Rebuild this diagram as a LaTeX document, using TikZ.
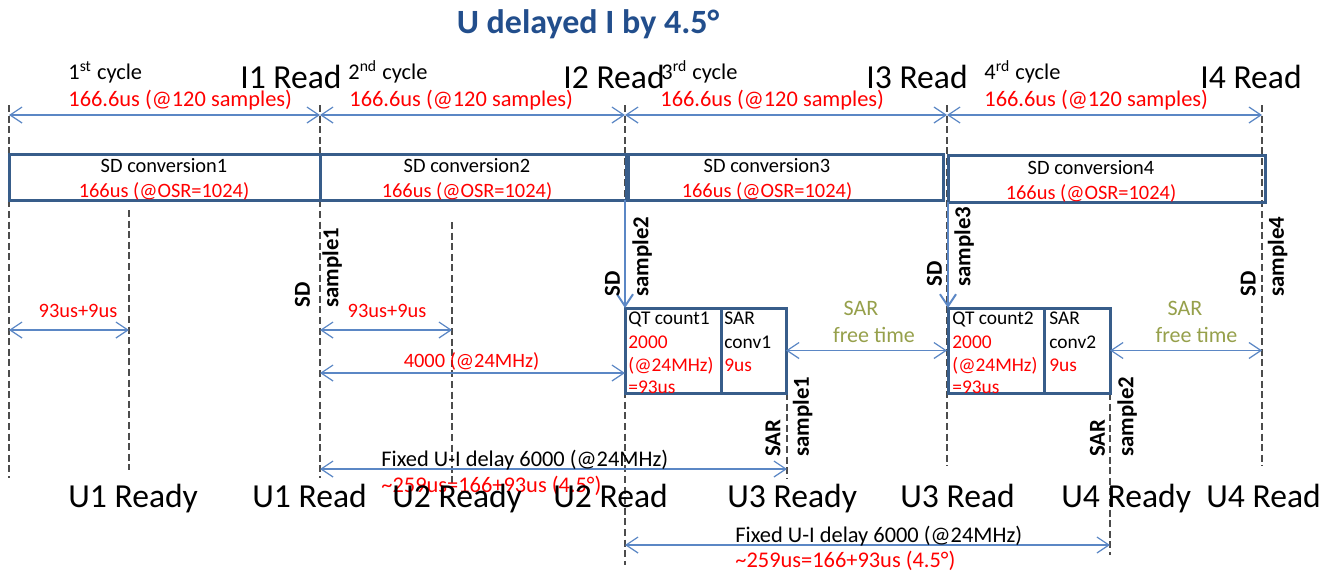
\documentclass[tikz,border=0pt]{standalone}
\usepackage{fontspec}
\setmainfont{Carlito}
\usetikzlibrary{arrows.meta,calc}

\definecolor{boxblue}{RGB}{56,93,138}
\definecolor{lineblue}{RGB}{91,135,197}
\definecolor{titleblue}{RGB}{34,78,140}
\definecolor{sargreen}{RGB}{150,160,75}

\tikzset{
  >={Straight Barb[length=6pt,width=8pt]},
  guide/.style={black!70,line width=0.6pt,dash pattern=on 3.5pt off 1.8pt},
  span/.style={lineblue,line width=0.6pt,<->},
  feed/.style={lineblue,line width=1pt,->},
  sdbox/.style={draw=boxblue,line width=1.5pt,outer sep=0pt,inner sep=0pt,minimum height=23pt},
  qtbox/.style={sdbox,minimum height=42.5pt},
  big/.style={font=\fontsize{16.8}{20}\selectfont,anchor=base west},
  cyc/.style={font=\fontsize{11.2}{13}\selectfont,anchor=base west},
  note/.style={font=\fontsize{10.2}{12.5}\selectfont,align=center},
  inbox/.style={font=\fontsize{9.7}{11.2}\selectfont,align=left,anchor=north west},
  vlabel/.style={rotate=90,anchor=west,align=left,font=\fontsize{11.4}{14.2}\selectfont\bfseries},
  freet/.style={font=\fontsize{11}{13}\selectfont,text=sargreen,anchor=base},
}

\begin{document}
\begin{tikzpicture}[x=0.5pt,y=-0.5pt,every node/.style={inner sep=0pt}]
\useasboundingbox (0,0) rectangle (1333,574);

% read instants and guide lines
\coordinate (i0) at (9,105);    \coordinate (e0) at (9,478);
\coordinate (i1) at (320,105);  \coordinate (e1) at (320,478);
\coordinate (i2) at (625,105);  \coordinate (e2) at (625,565);
\coordinate (i3) at (947,105);  \coordinate (e3) at (947,466);
\coordinate (i4) at (1262,105); \coordinate (e4) at (1262,466);
\coordinate (r1) at (129,210);  \coordinate (f1) at (129,470);
\coordinate (r2) at (452,222);  \coordinate (f2) at (452,487);
\coordinate (s1) at (787,393);  \coordinate (g1) at (787,478);
\coordinate (s2) at (1110,393); \coordinate (g2) at (1110,555);

\draw[guide] (i0) -- (e0);
\draw[guide] (i1) -- (e1);
\draw[guide] (i2) -- (e2);
\draw[guide] (i3) -- (e3);
\draw[guide] (i4) -- (e4);
\draw[guide] (r1) -- (f1);
\draw[guide] (r2) -- (f2);
\draw[guide] (s1) -- (g1);
\draw[guide] (s2) -- (g2);

\node[font=\fontsize{17}{20}\selectfont\bfseries,text=titleblue,anchor=base] (title) at (588,33) {U delayed I by 4.5°};

% cycles
\coordinate (t0) at (9,115);
\coordinate (t1) at (320,115);
\coordinate (t2) at (625,115);
\coordinate (t3) at (947,115);
\coordinate (t4) at (1262,115);
\draw[span] (t0) -- (t1);
\draw[span] (t1) -- (t2);
\draw[span] (t2) -- (t3);
\draw[span] (t3) -- (t4);

\node[cyc] (cyc1) at (68,79) {1\textsuperscript{st} cycle};
\node[cyc,text=red] (per1) at (68,106) {166.6us (@120 samples)};
\node[big] (rd1) at (240,88) {I1 Read};
\node[cyc] (cyc2) at (348,79) {2\textsuperscript{nd} cycle};
\node[cyc,text=red] (per2) at (349,106) {166.6us (@120 samples)};
\node[big] (rd2) at (563,88) {I2 Read};
\node[cyc] (cyc3) at (661,79) {3\textsuperscript{rd} cycle};
\node[cyc,text=red] (per3) at (660,106) {166.6us (@120 samples)};
\node[big] (rd3) at (866,88) {I3 Read};
\node[cyc] (cyc4) at (984,79) {4\textsuperscript{rd} cycle};
\node[cyc,text=red] (per4) at (984,106) {166.6us (@120 samples)};
\node[big] (rd4) at (1200,88) {I4 Read};

% SD conversions
\node[sdbox,minimum width=155.5pt] (sd1) at (164.5,177) {};
\node[sdbox,minimum width=153pt] (sd2) at (473,177) {};
\node[sdbox,minimum width=157.5pt] (sd3) at (785.5,177) {};
\node[sdbox,minimum width=158.5pt,minimum height=23.5pt] (sd4) at (1106.5,178.5) {};
\node[note] (sdt1) at (164,179.5) {SD conversion1\\\textcolor{red}{166us (@OSR=1024)}};
\node[note] (sdt2) at (467,179.5) {SD conversion2\\\textcolor{red}{166us (@OSR=1024)}};
\node[note] (sdt3) at (767,179.5) {SD conversion3\\\textcolor{red}{166us (@OSR=1024)}};
\node[note] (sdt4) at (1091,181) {SD conversion4\\\textcolor{red}{166us (@OSR=1024)}};

% QT count and SAR conversion
\node[qtbox,minimum width=48pt] (qt1) at (673,350.5) {};
\node[qtbox,minimum width=32.5pt] (sar1) at (753.5,350.5) {};
\node[qtbox,minimum width=48pt] (qt2) at (996,350.5) {};
\node[qtbox,minimum width=33pt] (sar2) at (1077,350.5) {};
\node[inbox] (qtt1) at (628,311.5) {QT count1\\[1pt]\textcolor{red}{2000}\\\textcolor{red}{(@24MHz)}\\\textcolor{red}{=93us}};
\node[inbox] (sart1) at (724,311.5) {SAR\\[1pt]conv1\\\textcolor{red}{9us}};
\node[inbox] (qtt2) at (952,311.5) {QT count2\\[1pt]\textcolor{red}{2000}\\\textcolor{red}{(@24MHz)}\\\textcolor{red}{=93us}};
\node[inbox] (sart2) at (1049,311.5) {SAR\\[1pt]conv2\\\textcolor{red}{9us}};

\draw[feed] (qt1.north west |- sd3.south) -- (qt1.north west);
\draw[feed] (qt2.north west |- sd4.south) -- (qt2.north west);

% sample instants
\node[vlabel] (smp1) at (318.5,308) {SD\\sample1};
\node[vlabel] (smp2) at (628.5,297) {SD\\sample2};
\node[vlabel] (smp3) at (950.5,287) {SD\\sample3};
\node[vlabel] (smp4) at (1264,297) {SD\\sample4};
\node[vlabel] (sars1) at (789,457) {SAR\\sample1};
\node[vlabel] (sars2) at (1113.5,457) {SAR\\sample2};

% delays
\coordinate (m1a) at (9,330);   \coordinate (m1b) at (129,330);
\coordinate (m2a) at (320,330); \coordinate (m2b) at (452,330);
\coordinate (m3a) at (320,373); \coordinate (m3b) at (625,373);
\draw[span] (m1a) -- (m1b);
\draw[span] (m2a) -- (m2b);
\draw[span] (m3a) -- (m3b);
\node[note,text=red,anchor=base] (dl1) at (78,317) {93us+9us};
\node[note,text=red,anchor=base] (dl2) at (387,317) {93us+9us};
\node[note,text=red,anchor=base] (cnt) at (471.5,367) {4000 (@24MHz)};

\draw[span] (sar1.east) -- (sar1.east -| i3);
\draw[span] (sar2.east) -- (sar2.east -| i4);
\node[freet] (fr1a) at (861,315) {SAR};
\node[freet] (fr1b) at (874,342) {free time};
\node[freet] (fr2a) at (1185,315) {SAR};
\node[freet] (fr2b) at (1196.5,342) {free time};

\coordinate (x1a) at (320,469); \coordinate (x1b) at (787,469);
\coordinate (x2a) at (625,545); \coordinate (x2b) at (1110,545);
\draw[span] (x1a) -- (x1b);
\draw[span] (x2a) -- (x2b);
\node[cyc] (fx1) at (381,466) {Fixed U-I delay 6000 (@24MHz)};
\node[cyc,text=red] (fx1v) at (381,492) {\textasciitilde259us=166+93us (4.5°)};
\node[cyc] (fx2) at (735,542) {Fixed U-I delay 6000 (@24MHz)};
\node[cyc,text=red] (fx2v) at (735,567) {\textasciitilde259us=166+93us (4.5°)};

% U side
\node[big] (ur1) at (68,507) {U1 Ready};
\node[big] (ud1) at (252,507) {U1 Read};
\node[big] (ur2) at (392,507) {U2 Ready};
\node[big] (ud2) at (553,507) {U2 Read};
\node[big] (ur3) at (727,507) {U3 Ready};
\node[big] (ud3) at (900,507) {U3 Read};
\node[big] (ur4) at (1061,507) {U4 Ready};
\node[big] (ud4) at (1206,507) {U4 Read};
\end{tikzpicture}
\end{document}
